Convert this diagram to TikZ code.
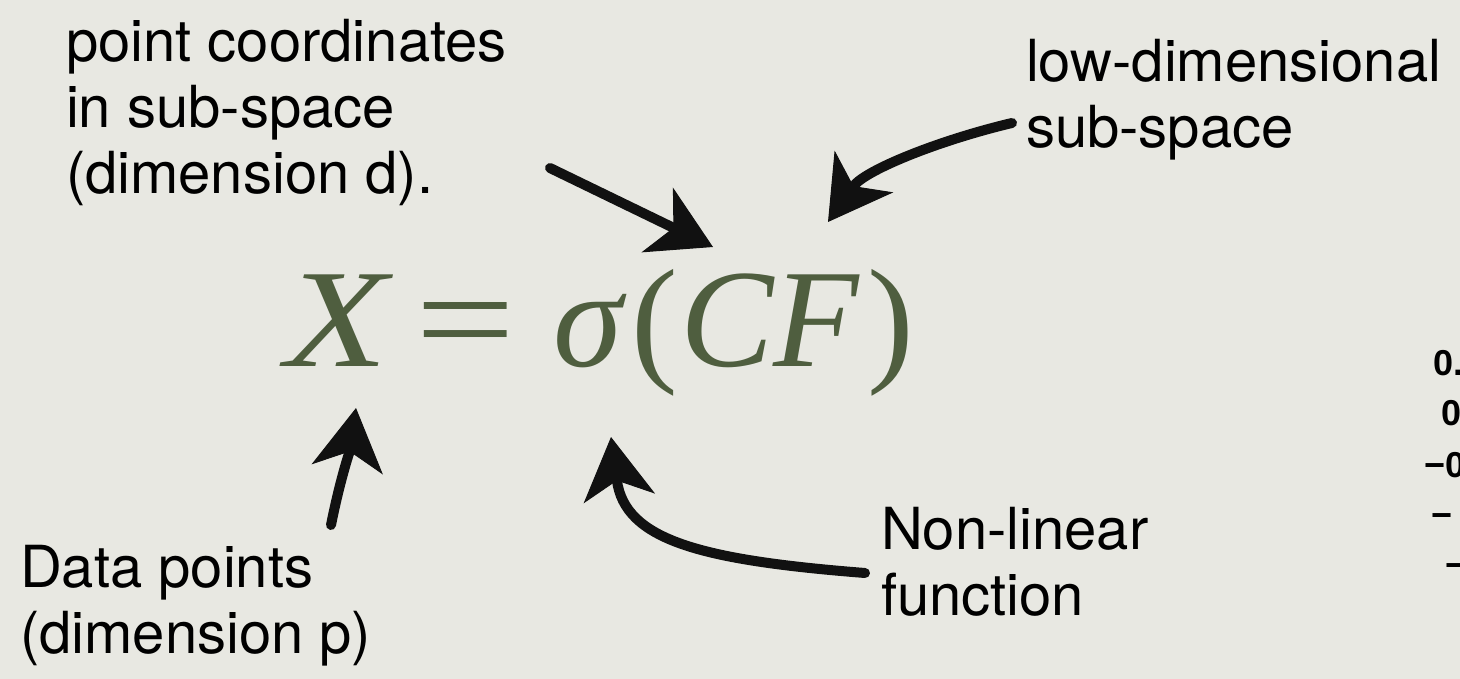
\documentclass[tikz,border=0pt]{standalone}
\usepackage{fontspec}
\usepackage{graphicx}
\setmainfont{TeX Gyre Heros}
\newfontfamily\factEqFont{Liberation Serif}
\newfontfamily\factNumFont{Liberation Sans}
\usetikzlibrary{arrows.meta}
\definecolor{factPaper}{HTML}{E8E8E2}
\definecolor{factGreen}{HTML}{4F5E3F}
\definecolor{factInk}{HTML}{111111}
\tikzset{
  fact diagram/.style={
    x=1pt, y=-1pt,
    every node/.style={inner sep=0pt, outer sep=0pt}
  },
  % base west = baseline of the last line
  fact label/.style={anchor=base west, align=left,
    font=\fontsize{58}{66}\selectfont, text=black},
  fact eq/.style={anchor=base west, text=factGreen,
    font=\factEqFont\fontsize{140}{150}\selectfont},
  fact num/.style={anchor=base west, text=black,
    font=\factNumFont\bfseries\fontsize{36}{40}\selectfont},
  fact arrow/.style={draw=factInk, line width=10pt, line cap=round,
    -{Stealth[length=62pt, width=72pt, inset=18pt, line width=1pt]}}
}

\begin{document}
\begin{tikzpicture}[fact diagram]
    \fill[factPaper] (0,0) rectangle (1460,679);
    \useasboundingbox (0,0) rectangle (1460,679);
    % the formula
    \node[fact eq] (eqn) at (285,366)
      {\scalebox{1.2}[1]{\itshape X}\hspace{28pt}\scalebox{1.27}[1]{=}\hspace{38pt}{\itshape σ}\hspace{9pt}(\hspace{2pt}{\itshape CF}\/\hspace{7pt})};
    % labels
    \node[fact label] (coordsLbl) at (66,194)
      {point coordinates\\in sub-space\\(dimension d).};
    \node[fact label] (spaceLbl) at (1026,148)
      {low-dimensional\\sub-space};
    \node[fact label] (dataLbl) at (20,653)
      {Data points\\(dimension p)};
    \node[fact label] (funcLbl) at (881,615)
      {Non-linear\\function};
    % cut numbers at the right edge
    \node[fact num] (numA) at (1433,375) {0.};
    \node[fact num] (numB) at (1441,425) {0};
    \node[fact num] (numC) at (1424,477) {−0};
    \node[fact num] (numD) at (1431,527) {−};
    \node[fact num] (numE) at (1445,577) {−};
    % arrow ends
    \coordinate (coordsTail) at (550,168);
    \coordinate (coordsTip) at (713,247);
    \coordinate (spaceTail) at (1012,123);
    \coordinate (spaceTip) at (828,222);
    \coordinate (dataTail) at (331,525);
    \coordinate (dataTip) at (356,408);
    \coordinate (funcTail) at (865,573);
    \coordinate (funcTip) at (611,437);
    \draw[fact arrow] (coordsTail) -- (coordsTip);
    \draw[fact arrow] (spaceTail) .. controls (940,140) and (865,170) .. (spaceTip);
    \draw[fact arrow] (dataTail) .. controls (340,480) and (350,450) .. (dataTip);
    \draw[fact arrow] (funcTail) .. controls (700,560) and (625,540) .. (funcTip);
\end{tikzpicture}
\end{document}
